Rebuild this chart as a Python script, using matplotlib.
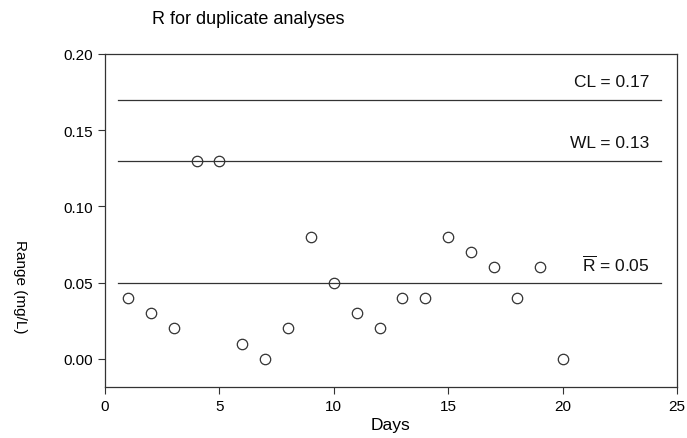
import numpy as np
import matplotlib
matplotlib.use("Agg")
import matplotlib.pyplot as plt

plt.rcParams['font.family'] = ['Liberation Sans', 'DejaVu Sans']
plt.rcParams['mathtext.fontset'] = 'custom'
plt.rcParams['mathtext.rm'] = 'Liberation Sans'

# data
days = np.arange(1, 21)
ranges = [0.04, 0.03, 0.02, 0.13, 0.13, 0.01, 0.00, 0.02, 0.08, 0.05,
          0.03, 0.02, 0.04, 0.04, 0.08, 0.07, 0.06, 0.04, 0.06, 0.00]
limit_values = [0.17, 0.13, 0.05]
limit_labels = ['CL = 0.17', 'WL = 0.13', r'$\overline{\mathrm{R}}$ = 0.05']
x_ticks = [0, 5, 10, 15, 20, 25]
y_ticks = [0.00, 0.05, 0.10, 0.15, 0.20]

fig = plt.figure(figsize=(6.87, 4.39), dpi=100)
ax = fig.add_axes([105/687, 1 - 388/439, (677-105)/687, (388-55)/439])

ax.plot(days, ranges, 'o', ms=7.5, mfc='none', mec='#333333', mew=0.9)

for v, lab in zip(limit_values, limit_labels):
    ax.plot([0.57, 24.3], [v, v], color='#333333', lw=0.9)
    ax.text(23.8, v + 0.012, lab, ha='right', va='center', fontsize=12.5, color='#111111')

ax.set_xlim(0, 25)
ax.set_ylim(-0.0185, 0.20)
ax.set_xticks(x_ticks)
ax.set_yticks(y_ticks)
ax.set_yticklabels(['%.2f' % t for t in y_ticks])
ax.tick_params(direction='out', length=5, labelsize=11, top=False, right=False,
               color='#333333')
for s in ax.spines.values():
    s.set_linewidth(0.9)
    s.set_color('#333333')

ax.set_xlabel('Days', fontsize=12.5, labelpad=3)
fig.text(152/687, 1 - 19/439, 'R for duplicate analyses', fontsize=13, ha='left', va='center')
fig.text(20/687, 1 - 287/439, 'Range (mg/L)', rotation=270, fontsize=11, ha='center', va='center')

fig.savefig('out.png', dpi=100)
